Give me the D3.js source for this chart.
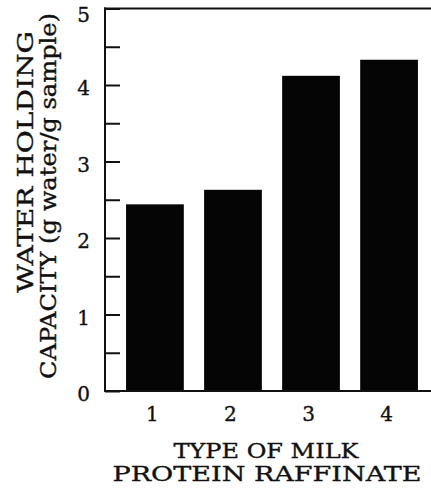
<!DOCTYPE html>
<html>
<head>
<meta charset="utf-8">
<script src="https://cdn.jsdelivr.net/npm/d3@7"></script>
<style>
  html, body { margin: 0; padding: 0; background: #fff; }
  svg { display: block; }
  text { font-family: "DejaVu Serif", "Liberation Serif", serif; fill: #111; stroke: #111; stroke-width: 0.35; }
</style>
</head>
<body>
<svg id="chart" width="431" height="490"></svg>
<script>
// Milk protein raffinate types and their water holding capacity
const categories = ["1", "2", "3", "4"];
const values = [2.44, 2.63, 4.12, 4.33];
const yTicks = [0, 1, 2, 3, 4, 5];
const yMinorTicks = [0.5, 1.5, 2.5, 3.5, 4.5];

const W = 431, H = 490;
const plotLeft = 105, plotTop = 8.5, plotBottom = 391;

const svg = d3.select("#chart");

const x = d3.scaleBand()
  .domain(categories)
  .range([plotLeft, 439])
  .paddingInner(0.26)
  .paddingOuter(0.27);

const y = d3.scaleLinear().domain([0, 5]).range([plotBottom, plotTop]);

// bars
svg.append("g")
  .selectAll("rect")
  .data(values)
  .join("rect")
  .attr("x", (d, i) => x(categories[i]))
  .attr("width", x.bandwidth())
  .attr("y", d => y(d))
  .attr("height", d => y(0) - y(d))
  .attr("fill", "#050505");

// frame: left axis plus top and bottom rules
const frame = svg.append("g").attr("stroke", "#111").attr("stroke-width", 2).attr("fill", "none");
frame.append("line").attr("x1", plotLeft).attr("x2", plotLeft).attr("y1", plotTop - 1).attr("y2", plotBottom + 1);
frame.append("line").attr("x1", plotLeft - 1).attr("x2", W).attr("y1", plotTop).attr("y2", plotTop);
frame.append("line").attr("x1", plotLeft - 1).attr("x2", W).attr("y1", plotBottom).attr("y2", plotBottom);

// inward ticks on the y axis
const yAxis = d3.axisRight(y)
  .tickValues(yTicks.concat(yMinorTicks))
  .tickSize(15)
  .tickFormat("");
const gy = svg.append("g").attr("transform", `translate(${plotLeft},0)`).call(yAxis);
gy.select(".domain").remove();
gy.selectAll(".tick line").attr("stroke", "#111").attr("stroke-width", 2);

// y tick labels (the top one sits just below the frame edge)
svg.append("g")
  .selectAll("text")
  .data(yTicks)
  .join("text")
  .attr("x", 90)
  .attr("y", d => Math.max(y(d), 12))
  .attr("dy", "0.52em")
  .attr("text-anchor", "end")
  .attr("font-size", 20)
  .text(d => d);

// x tick labels
svg.append("g")
  .selectAll("text")
  .data(categories)
  .join("text")
  .attr("x", d => x(d) + x.bandwidth() / 2 - 2.5)
  .attr("y", 421)
  .attr("text-anchor", "middle")
  .attr("font-size", 20)
  .text(d => d);

// x axis title
svg.append("text")
  .attr("x", 266).attr("y", 458)
  .attr("text-anchor", "middle")
  .attr("font-size", 21)
  .attr("textLength", 185).attr("lengthAdjust", "spacingAndGlyphs")
  .text("TYPE OF MILK");
svg.append("text")
  .attr("x", 267).attr("y", 481)
  .attr("text-anchor", "middle")
  .attr("font-size", 21)
  .attr("textLength", 309).attr("lengthAdjust", "spacingAndGlyphs")
  .text("PROTEIN RAFFINATE");

// y axis title (rotated, two lines)
svg.append("text")
  .attr("transform", "translate(33,162) rotate(-90)")
  .attr("text-anchor", "middle")
  .attr("font-size", 22)
  .attr("textLength", 262).attr("lengthAdjust", "spacingAndGlyphs")
  .text("WATER HOLDING");
svg.append("text")
  .attr("transform", "translate(56,196) rotate(-90)")
  .attr("text-anchor", "middle")
  .attr("font-size", 22)
  .attr("textLength", 366).attr("lengthAdjust", "spacingAndGlyphs")
  .text("CAPACITY (g water/g sample)");
</script>
</body>
</html>
